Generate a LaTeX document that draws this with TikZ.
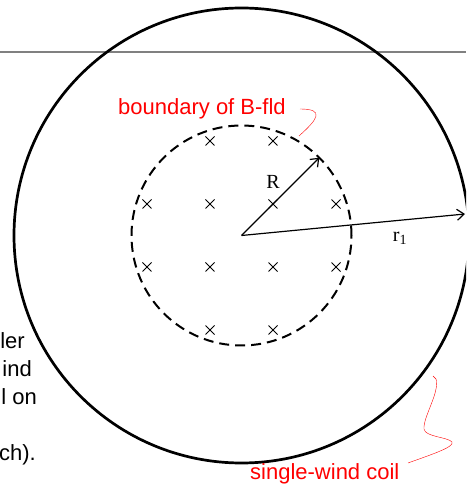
\documentclass[tikz,border=0pt]{standalone}
\usepackage{fontspec}
\setmainfont{Liberation Serif}
\newfontfamily\arial{Liberation Sans}
\usetikzlibrary{arrows.meta}
\tikzset{
  lbl/.style={font=\arial\fontsize{22}{26}\selectfont, inner sep=0pt},
  note/.style={lbl, text=red},
  sym/.style={font=\fontsize{20}{24}\selectfont, inner sep=0pt},
}

\begin{document}
\begin{tikzpicture}[>={Straight Barb[length=7pt,width=11pt]}, x=1pt, y=1pt]
	\useasboundingbox (0,0) rectangle (466,487);
	\clip (0,0) rectangle (466,487);
	\draw[gray, line width=1.5pt] (0,435) -- (466,435);
	\coordinate (O) at (241.5,251.5);
	% coil and edge of the field region
	\draw[line width=2.7pt] (O) circle (227.5);
	\draw[line width=2pt, dash pattern=on 10pt off 6pt] (O) circle (110);
	% field into the page
	\foreach \i/\j in {-0.5/1.5, 0.5/1.5, -1.5/0.5, -0.5/0.5, 0.5/0.5, 1.5/0.5,
		-1.5/-0.5, -0.5/-0.5, 0.5/-0.5, 1.5/-0.5, -0.5/-1.5, 0.5/-1.5}
		\draw[line width=0.8pt, shift={(O)}, shift={(\i*63,\j*63)}] (-4.5,-4.5) -- (4.5,4.5) (-4.5,4.5) -- (4.5,-4.5);
	\path (O) ++(45:110) coordinate (Rtip);
	\coordinate (rtip) at (465,273);
	\draw[->, line width=1.2pt] (O) -- (Rtip);
	\draw[->, line width=1.2pt] (O) -- (rtip);
	\node[sym] (lblR) at (273,305) {R};
	\node[sym] (lblr) at (400,249) {r\textsubscript{1}};
	\node[note, anchor=base west] (bnd) at (118,372) {boundary of B-fld};
	\node[note, anchor=base west] (coil) at (250,7) {single-wind coil};
	\draw[red, thin] (300,378) .. controls (325,378) and (318,368) .. (299,351);
	\draw[red, thin] (408,24) .. controls (430,32) and (455,40) .. (452,45) .. controls (448,50) and (425,50) .. (424,58) .. controls (423,70) and (440,95) .. (436,108) -- (433,111);
	% cut-off lines of the slide text
	\foreach \t/\x/\y [count=\k] in {ler/25/138, ind/32/110, l on/37/82, ch)./36/26}
		\node[lbl, anchor=base east] (txt\k) at (\x,\y) {\t};
\end{tikzpicture}
\end{document}
